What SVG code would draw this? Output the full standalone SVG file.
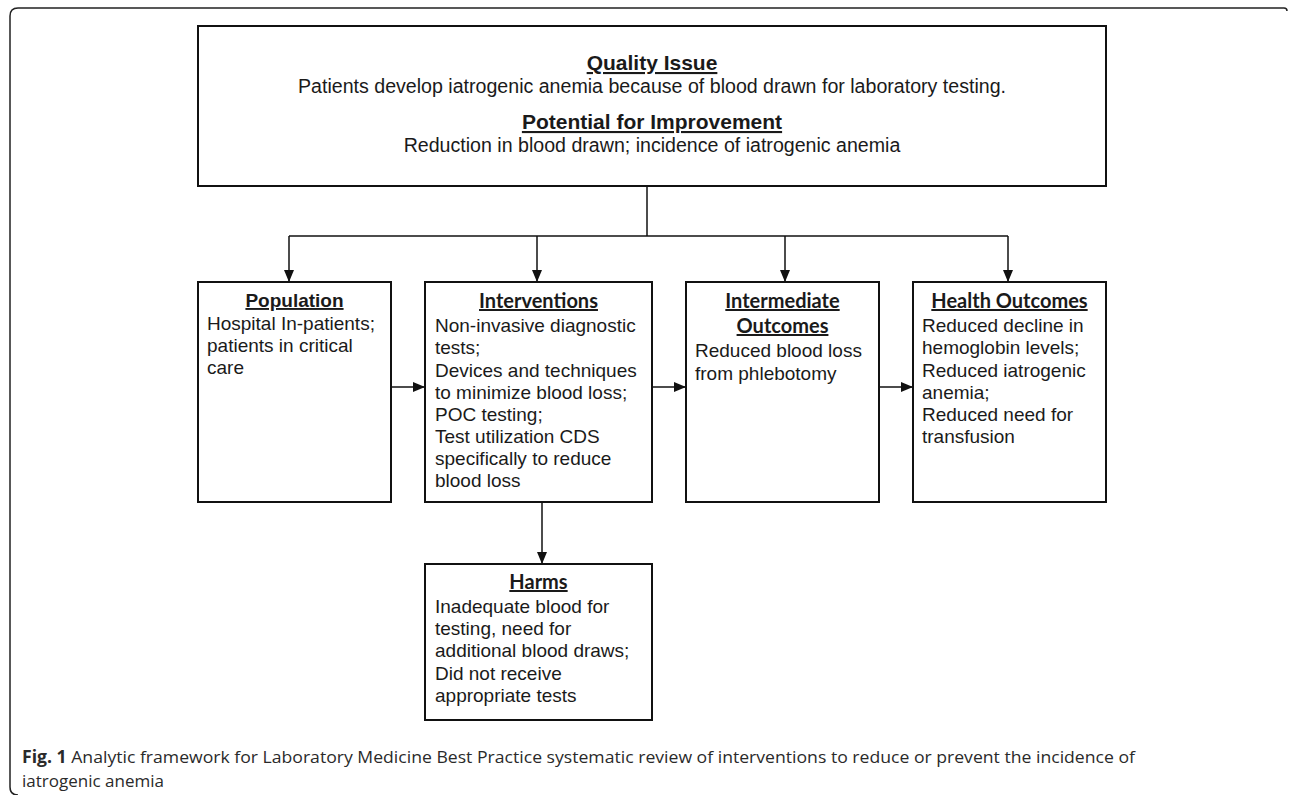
<svg xmlns="http://www.w3.org/2000/svg" width="1290" height="795" viewBox="0 0 1290 795">
<defs>
<marker id="ah" viewBox="0 0 12 10" refX="12" refY="5" markerWidth="12" markerHeight="10" markerUnits="userSpaceOnUse" orient="auto">
<path d="M0,0 L12,5 L0,10 z" fill="#111"/>
</marker>
<style>
.box{fill:#fff;stroke:#111;stroke-width:2}
.t{font-family:"Liberation Sans",Arial,sans-serif;font-size:19px;fill:#1a1a1a}
.h{font-family:"Liberation Sans",Arial,sans-serif;font-size:19px;font-weight:bold;fill:#1a1a1a;text-decoration:underline;text-anchor:middle}
.hc{font-family:Lato,"Liberation Sans",sans-serif;font-size:20px;font-weight:bold;fill:#1a1a1a;text-decoration:underline;text-anchor:middle}
.c{font-family:"Open Sans","Liberation Sans",sans-serif;font-size:17px;fill:#2a2a2a}
.ln{fill:none;stroke:#111;stroke-width:1.5}
</style>
</defs>
<rect width="1290" height="795" fill="#fff"/>
<path d="M1287,11 Q1287,8 1284,8 H18 Q10,8 10,16 V787 Q10,795 18,795" fill="none" stroke="#222" stroke-width="1.5"/>

<g id="connectors">
<path class="ln" d="M647,186 V236"/>
<path class="ln" d="M289,236 H1008"/>
<path class="ln" d="M289,236 V282" marker-end="url(#ah)"/>
<path class="ln" d="M537,236 V282" marker-end="url(#ah)"/>
<path class="ln" d="M785,236 V282" marker-end="url(#ah)"/>
<path class="ln" d="M1008,236 V282" marker-end="url(#ah)"/>
<path class="ln" d="M391,387 H425" marker-end="url(#ah)"/>
<path class="ln" d="M652,387 H686" marker-end="url(#ah)"/>
<path class="ln" d="M879,387 H913" marker-end="url(#ah)"/>
<path class="ln" d="M542,502 V564" marker-end="url(#ah)"/>
</g>

<g id="quality">
<rect class="box" x="198" y="26" width="908" height="160"/>
<text class="h" x="652" y="70" style="font-size:21px">Quality Issue</text>
<text class="t" x="652" y="93" text-anchor="middle" style="font-size:19.6px">Patients develop iatrogenic anemia because of blood drawn for laboratory testing.</text>
<text class="h" x="652" y="129" style="font-size:21px">Potential for Improvement</text>
<text class="t" x="652" y="152" text-anchor="middle" style="font-size:19.6px">Reduction in blood drawn; incidence of iatrogenic anemia</text>
</g>

<g id="population">
<rect class="box" x="198" y="282" width="193" height="220"/>
<text class="h" x="294.5" y="307">Population</text>
<text class="t" x="207" y="330">Hospital In-patients;</text>
<text class="t" x="207" y="352">patients in critical</text>
<text class="t" x="207" y="374">care</text>
</g>

<g id="interventions">
<rect class="box" x="425" y="282" width="227" height="220"/>
<text class="hc" x="538.5" y="308">Interventions</text>
<text class="t" x="435" y="332">Non-invasive diagnostic</text>
<text class="t" x="435" y="354">tests;</text>
<text class="t" x="435" y="377">Devices and techniques</text>
<text class="t" x="435" y="399">to minimize blood loss;</text>
<text class="t" x="435" y="421">POC testing;</text>
<text class="t" x="435" y="443">Test utilization CDS</text>
<text class="t" x="435" y="465">specifically to reduce</text>
<text class="t" x="435" y="487">blood loss</text>
</g>

<g id="intermediate">
<rect class="box" x="686" y="282" width="193" height="220"/>
<text class="hc" x="782.5" y="308">Intermediate</text>
<text class="hc" x="782.5" y="333">Outcomes</text>
<text class="t" x="695" y="357">Reduced blood loss</text>
<text class="t" x="695" y="380">from phlebotomy</text>
</g>

<g id="health">
<rect class="box" x="913" y="282" width="193" height="220"/>
<text class="hc" x="1009.5" y="308">Health Outcomes</text>
<text class="t" x="922" y="332">Reduced decline in</text>
<text class="t" x="922" y="354">hemoglobin levels;</text>
<text class="t" x="922" y="377">Reduced iatrogenic</text>
<text class="t" x="922" y="399">anemia;</text>
<text class="t" x="922" y="421">Reduced need for</text>
<text class="t" x="922" y="443">transfusion</text>
</g>

<g id="harms">
<rect class="box" x="425" y="564" width="227" height="156"/>
<text class="hc" x="538.5" y="589">Harms</text>
<text class="t" x="435" y="613">Inadequate blood for</text>
<text class="t" x="435" y="635">testing, need for</text>
<text class="t" x="435" y="657">additional blood draws;</text>
<text class="t" x="435" y="680">Did not receive</text>
<text class="t" x="435" y="702">appropriate tests</text>
</g>

<g id="caption">
<text class="c" x="22" y="763" textLength="1113" lengthAdjust="spacingAndGlyphs"><tspan font-weight="bold">Fig. 1</tspan> Analytic framework for Laboratory Medicine Best Practice systematic review of interventions to reduce or prevent the incidence of</text>
<text class="c" x="22" y="787">iatrogenic anemia</text>
</g>
</svg>
